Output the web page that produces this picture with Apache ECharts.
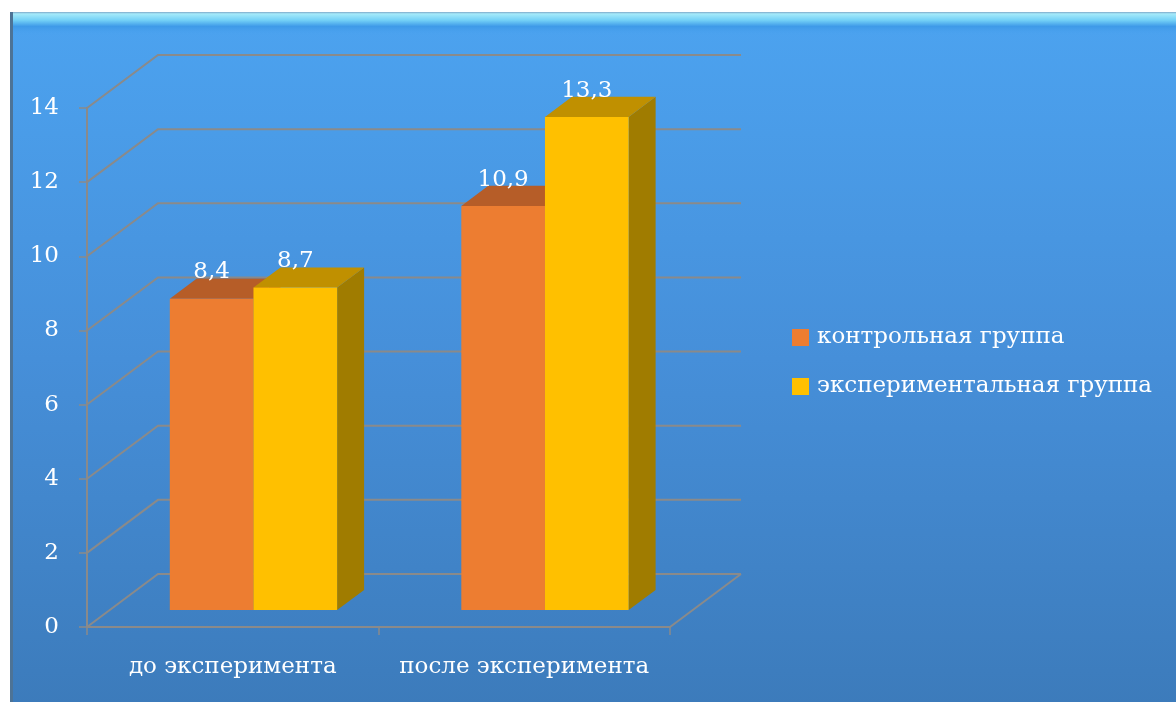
<!DOCTYPE html>
<html>
<head>
<meta charset="utf-8">
<script src="https://cdn.jsdelivr.net/npm/echarts@6/dist/echarts.min.js"></script>
<style>
html,body{margin:0;padding:0;background:#fff;}
#chart{width:1176px;height:702px;}
</style>
</head>
<body>
<div id="chart"></div>
<script>
var categories = ['до эксперимента', 'после эксперимента'];
var seriesNames = ['контрольная группа', 'экспериментальная группа'];
var controlValues = [8.4, 10.9];
var experimentValues = [8.7, 13.3];
var yTicks = [0, 2, 4, 6, 8, 10, 12, 14];

var FONT = '"DejaVu Serif", serif';
var FS = 23;
var DX = 71, DY = -53;            // depth of the 3D box
var FRONT = 0.32, DEPTH = 0.38;   // bar position in depth
var palette = [
  {front: '#ED7D31', top: '#B65D28', side: '#A85524'},
  {front: '#FFC000', top: '#C09000', side: '#A07C00'}
];

function fmt(v){ return String(v).replace('.', ','); }

function wallRender(params, api) {
  var cs = params.coordSys;
  var v = api.value(0);
  var y = api.coord([0, v])[1];
  var left = cs.x, right = cs.x + cs.width;
  var children = [{
    type: 'polyline',
    shape: {points: [[left, y], [left + DX, y + DY], [right + DX, y + DY]]},
    style: {stroke: '#8A8A8A', lineWidth: 2, fill: null}
  }];
  if (v === 0) {
    children.push({
      type: 'line',
      shape: {x1: right, y1: y, x2: right + DX, y2: y + DY},
      style: {stroke: '#8A8A8A', lineWidth: 2}
    });
  }
  return {type: 'group', children: children};
}

function barRender(idx) {
  return function (params, api) {
    var cat = api.value(0), val = api.value(1);
    var c0 = api.coord([cat, 0]);
    var ct = api.coord([cat, val]);
    var band = api.size([1, 0])[0];
    var bw = band * 0.287;
    var fx = DX * FRONT, fy = DY * FRONT;
    var bx = DX * DEPTH, by = DY * DEPTH;
    var cx = c0[0] + fx - 2;
    var x0 = idx === 0 ? cx - bw : cx;
    var x1 = idx === 0 ? cx : cx + bw;
    var yb = c0[1] + fy, yt = ct[1] + fy;
    var p = palette[idx];
    return {
      type: 'group',
      children: [
        {type: 'polygon', shape: {points: [[x1, yt], [x1 + bx, yt + by], [x1 + bx, yb + by], [x1, yb]]},
          style: {fill: p.side}},
        {type: 'polygon', shape: {points: [[x0, yt], [x1, yt], [x1 + bx, yt + by], [x0 + bx, yt + by]]},
          style: {fill: p.top}},
        {type: 'rect', shape: {x: x0, y: yt, width: x1 - x0, height: yb - yt},
          style: {fill: p.front}},
        {type: 'text', x: (x0 + x1) / 2, y: yt + by - 6,
          style: {text: fmt(val), fill: '#ffffff', font: FS + 'px ' + FONT, align: 'center', verticalAlign: 'middle'}}
      ]
    };
  };
}

var chart = echarts.init(document.getElementById('chart'), null, {renderer: 'canvas'});
chart.setOption({
  backgroundColor: '#ffffff',
  animation: false,
  graphic: [
    {type: 'rect', z: -10, shape: {x: 10, y: 12, width: 1170, height: 694},
      style: {fill: new echarts.graphic.LinearGradient(0, 0, 0, 1, [
        {offset: 0, color: '#4CA3F0'}, {offset: 0.5, color: '#468FD9'}, {offset: 1, color: '#3C7BBB'}])}},
    {type: 'rect', z: -9, shape: {x: 10, y: 12, width: 1170, height: 24},
      style: {fill: new echarts.graphic.LinearGradient(0, 0, 0, 1, [
        {offset: 0, color: '#7FA7C8'}, {offset: 0.08, color: '#A5EAFA'}, {offset: 0.35, color: '#72CFF6'},
        {offset: 0.6, color: '#3E9AE8'}, {offset: 1, color: 'rgba(76,163,240,0)'}])}},
    {type: 'rect', z: -9, shape: {x: 10, y: 12, width: 3, height: 694},
      style: {fill: '#4D7396'}}
  ],
  legend: {
    orient: 'vertical',
    left: 787, top: 321,
    itemWidth: 17, itemHeight: 17,
    itemGap: 26,
    icon: 'rect',
    data: seriesNames,
    textStyle: {color: '#ffffff', fontSize: FS, fontFamily: FONT, padding: [0, 0, 0, 3]}
  },
  grid: {left: 87, right: 506, top: 108, bottom: 75, containLabel: false},
  xAxis: {
    type: 'category', data: categories, boundaryGap: true,
    axisLine: {show: true, lineStyle: {color: '#8A8A8A', width: 2}},
    axisTick: {show: true, interval: 0, length: 8, lineStyle: {color: '#8A8A8A', width: 1.5}},
    axisLabel: {interval: 0, color: '#ffffff', fontSize: FS, fontFamily: FONT, margin: 29}
  },
  yAxis: {
    type: 'value', min: 0, max: 14, interval: 2,
    axisLine: {show: true, lineStyle: {color: '#8A8A8A', width: 2}},
    axisTick: {show: true, length: 8, lineStyle: {color: '#8A8A8A', width: 1.5}},
    splitLine: {show: false},
    axisLabel: {color: '#ffffff', fontSize: FS, fontFamily: FONT, margin: 28}
  },
  series: [
    {type: 'custom', name: 'walls', z: 1, silent: true, renderItem: wallRender,
      data: yTicks.map(function (v) { return [v]; }), encode: {y: 0}},
    {type: 'custom', name: seriesNames[0], z: 3, renderItem: barRender(0),
      itemStyle: {color: palette[0].front},
      data: controlValues.map(function (v, i) { return [i, v]; }), encode: {x: 0, y: 1}},
    {type: 'custom', name: seriesNames[1], z: 4, renderItem: barRender(1),
      itemStyle: {color: palette[1].front},
      data: experimentValues.map(function (v, i) { return [i, v]; }), encode: {x: 0, y: 1}}
  ]
});
</script>
</body>
</html>
